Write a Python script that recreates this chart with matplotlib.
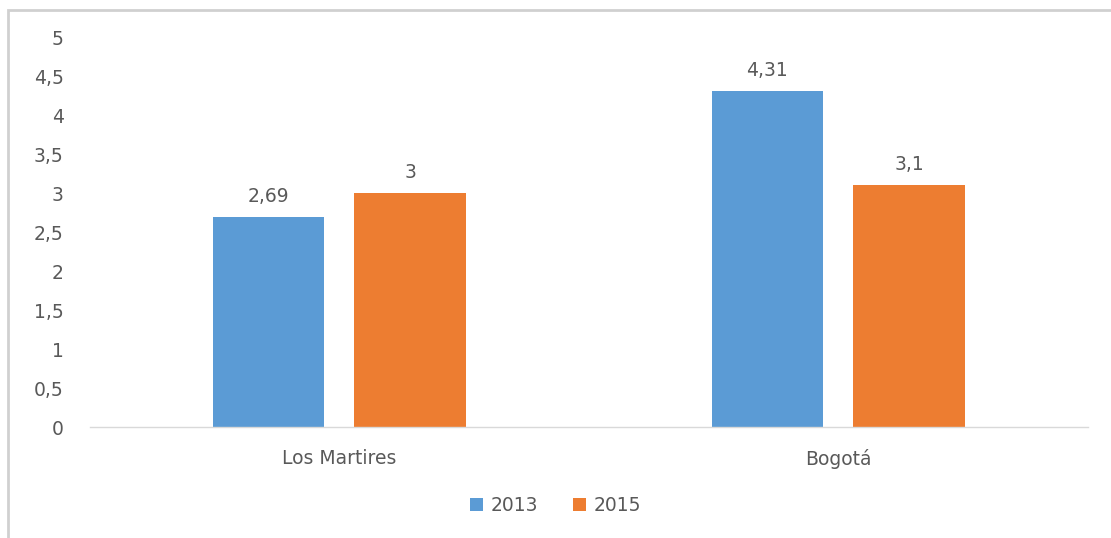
import numpy as np
import matplotlib
matplotlib.use('Agg')
import matplotlib.pyplot as plt
from matplotlib.patches import Rectangle

# datos
categorias = ['Los Martires', 'Bogotá']
series = ['2013', '2015']
valores_2013 = [2.69, 4.31]
valores_2015 = [3, 3.1]
etiquetas_2013 = ['2,69', '4,31']
etiquetas_2015 = ['3', '3,1']
yticks = np.arange(0, 5.5, 0.5)

plt.rcParams['font.family'] = ['DejaVu Sans']
gris = '#595959'
azul = '#5b9bd5'
naranja = '#ed7d31'
tam = 13.5

fig = plt.figure(figsize=(11.11, 5.38), dpi=100)
ax = fig.add_axes([0.081, 0.2063, 0.898, 0.7249])

x = np.arange(len(categorias))
ancho = 0.224
b1 = ax.bar(x - 0.142, valores_2013, width=ancho, color=azul, label=series[0])
b2 = ax.bar(x + 0.142, valores_2015, width=ancho, color=naranja, label=series[1])

for barras, etiquetas in [(b1, etiquetas_2013), (b2, etiquetas_2015)]:
    ax.bar_label(barras, labels=etiquetas, padding=8, color=gris, fontsize=tam)

ax.set_xlim(-0.5, 1.5)
ax.set_ylim(0, 5)
ax.set_yticks(yticks)
ax.set_yticklabels([f'{v:g}'.replace('.', ',') for v in yticks])
ax.set_xticks(x)
ax.set_xticklabels(categorias)
ax.tick_params(axis='both', length=0, colors=gris, labelsize=tam)
ax.tick_params(axis='y', pad=19)
ax.tick_params(axis='x', pad=16)

for s in ['top', 'right', 'left']:
    ax.spines[s].set_visible(False)
ax.spines['bottom'].set_color('#d9d9d9')
ax.spines['bottom'].set_linewidth(1)

fig.legend(loc='center', bbox_to_anchor=(0.5, 0.0595), ncol=2, frameon=False,
           handlelength=0.7, handleheight=0.7, handletextpad=0.4, columnspacing=1.9,
           fontsize=tam, labelcolor=gris)

# marco del gráfico
fig.patches.append(Rectangle((8 / 1111, -0.1), 1.2, 1.1 - 10 / 538, transform=fig.transFigure,
                             fill=False, edgecolor='#d0d0d0', linewidth=2))

fig.savefig('out.png', dpi=100)
